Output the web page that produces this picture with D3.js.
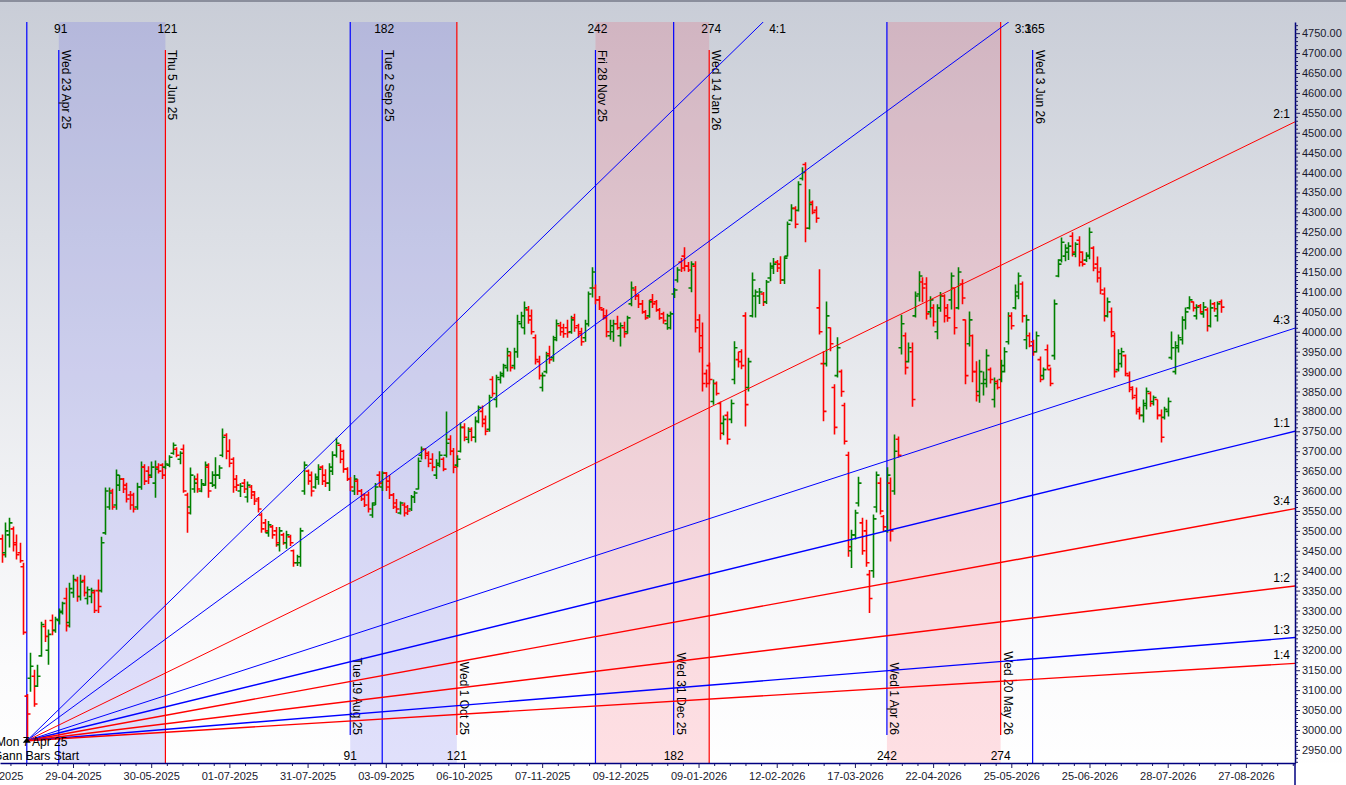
<!DOCTYPE html>
<html>
<head>
<meta charset="utf-8">
<script src="https://cdn.jsdelivr.net/npm/d3@7"></script>
<style>
  html, body { margin: 0; padding: 0; background: #fff; overflow: hidden; }
  text { font-family: "Liberation Sans", Arial, sans-serif; }
</style>
</head>
<body>
<div id="chart"></div>
<script>
// daily bars, [open, high, low, close], first bar is 7 bars before Mon 7 Apr 25
const firstBar = -7;
const priceBars = [
  [3480,3491,3420,3440],[3445,3521,3433,3500],[3490,3533,3458,3520],[3505,3511,3448,3465],[3470,3491,3428,3440],
  [3445,3470,3420,3425],[3410,3420,3239,3245],
  // 7 Apr 25
  [3085,3090,2975,3040],[3130,3194,3096,3160],[3135,3151,3058,3065],[3110,3164,3108,3135],[3186,3272,3184,3265],
  [3260,3277,3221,3235],[3200,3252,3164,3240],[3275,3290,3238,3250],[3250,3284,3244,3278],[3275,3305,3265,3298],
  [3295,3322,3290,3318],[3330,3357,3247,3262],[3270,3370,3257,3355],[3345,3390,3332,3378],[3375,3385,3322,3335],
  [3335,3390,3325,3372],[3375,3388,3335,3345],[3330,3360,3315,3352],[3335,3357,3318,3350],[3345,3352,3294,3300],
  [3350,3378,3294,3310],[3350,3485,3345,3470],[3495,3609,3490,3600],[3560,3609,3553,3595],[3600,3606,3553,3560],
  [3565,3654,3553,3640],[3615,3640,3600,3630],[3630,3633,3595,3605],[3615,3621,3571,3580],[3590,3600,3553,3565],
  [3590,3596,3546,3555],[3560,3621,3553,3610],[3610,3674,3603,3660],[3660,3667,3615,3625],[3650,3662,3618,3635],
  [3640,3674,3633,3660],[3620,3677,3583,3655],[3660,3670,3644,3650],[3665,3670,3630,3640],[3660,3677,3655,3668],
  [3665,3690,3660,3685],[3695,3722,3691,3715],[3705,3710,3685,3690],[3680,3700,3667,3695],[3705,3717,3596,3600],
  [3590,3596,3495,3545],[3560,3659,3541,3640],[3605,3639,3596,3620],[3630,3644,3596,3605],[3600,3630,3597,3618],
  [3615,3674,3613,3665],[3660,3670,3583,3600],[3620,3650,3610,3640],[3615,3685,3606,3640],[3640,3665,3630,3658],
  [3690,3757,3685,3735],[3740,3745,3680,3700],[3700,3730,3660,3670],[3680,3685,3596,3610],[3630,3640,3600,3615],
  [3600,3620,3585,3612],[3620,3630,3595,3605],[3585,3624,3571,3615],[3610,3615,3580,3590],[3598,3600,3565,3575],
  [3580,3585,3546,3555],[3540,3546,3495,3505],[3520,3530,3495,3500],[3495,3525,3485,3515],[3510,3515,3480,3490],
  [3500,3510,3460,3470],[3465,3510,3448,3500],[3490,3495,3465,3470],[3470,3500,3455,3490],[3485,3490,3462,3470],
  [3450,3453,3410,3420],[3420,3440,3412,3435],[3420,3508,3410,3500],[3600,3674,3591,3665],[3650,3654,3616,3625],
  [3640,3649,3586,3600],[3610,3644,3606,3635],[3630,3667,3616,3655],[3660,3665,3615,3625],[3640,3655,3610,3620],
  [3620,3670,3600,3660],[3650,3700,3640,3690],[3690,3734,3684,3720],[3715,3718,3670,3680],[3700,3704,3646,3655],
  [3655,3660,3625,3630],[3630,3635,3600,3610],[3600,3640,3590,3630],[3625,3630,3590,3600],[3600,3605,3575,3580],
  [3590,3595,3560,3565],[3590,3599,3546,3555],[3540,3571,3533,3565],[3570,3620,3565,3610],[3640,3650,3610,3620],
  [3610,3650,3600,3645],[3645,3648,3600,3610],[3625,3640,3580,3590],[3590,3595,3555,3560],[3570,3580,3545,3555],
  [3545,3574,3541,3570],[3565,3571,3536,3545],[3560,3565,3540,3550],[3555,3590,3550,3585],[3585,3600,3570,3595],
  [3605,3684,3604,3675],[3690,3712,3679,3705],[3705,3708,3680,3690],[3695,3700,3660,3670],[3680,3695,3650,3660],
  [3640,3680,3630,3670],[3665,3700,3660,3690],[3680,3685,3650,3655],[3690,3800,3684,3720],[3730,3740,3690,3700],
  [3700,3708,3645,3660],[3665,3690,3660,3680],[3700,3772,3697,3760],[3760,3770,3725,3735],[3730,3760,3720,3750],
  [3755,3760,3725,3735],[3735,3787,3722,3775],[3775,3815,3770,3810],[3800,3815,3760,3770],[3780,3790,3740,3750],
  [3755,3842,3749,3835],[3880,3888,3837,3845],[3830,3892,3810,3885],[3880,3900,3870,3895],[3890,3920,3885,3915],
  [3910,3960,3900,3950],[3940,3950,3900,3910],[3915,3960,3905,3950],[3950,4043,3935,4025],[4020,4050,4010,4040],
  [4010,4076,3993,4060],[4055,4065,4020,4030],[4040,4056,3993,4000],[3985,3993,3918,3930],[3925,3940,3880,3890],
  [3860,3898,3850,3890],[3900,3950,3895,3940],[3945,3965,3920,3930],[3935,3990,3925,3980],[3985,4031,3976,4020],
  [4015,4025,3990,4000],[4010,4020,3985,3995],[4010,4030,3985,3998],[4000,4040,3995,4030],[4035,4045,4000,4010],
  [4015,4020,3985,3995],[4000,4010,3965,3975],[3985,4030,3975,4020],[4020,4101,4013,4095],[4110,4162,4086,4150],
  [4110,4119,4069,4080],[4080,4090,4055,4060],[4055,4060,4030,4035],[4040,4056,3986,4000],[3990,4030,3980,4015],
  [4000,4030,3975,4020],[4020,4040,4005,4010],[3990,4023,3963,4015],[4010,4025,3985,3995],[4000,4040,3995,4035],
  [4070,4126,4064,4110],[4105,4115,4080,4090],[4090,4095,4060,4070],[4070,4080,4045,4050],[4050,4055,4030,4035],
  [4040,4080,4035,4075],[4080,4095,4060,4070],[4075,4080,4050,4055],[4055,4060,4030,4035],[4045,4050,4020,4028],
  [4020,4045,4005,4040],[4010,4051,4006,4045],[4095,4110,4085,4105],[4130,4162,4124,4155],[4175,4185,4150,4160],
  [4190,4212,4152,4165],[4165,4175,4150,4155],[4110,4177,4099,4170],[4165,4177,3998,4010],[4030,4044,3948,3960],
  [3990,4023,3850,3870],[3895,3905,3860,3870],[3915,3923,3868,3880],[3825,3880,3817,3870],[3870,3875,3840,3845],
  [3820,3825,3729,3745],[3770,3790,3740,3780],[3790,3800,3717,3730],[3780,3830,3770,3820],[3880,3976,3868,3960],
  [3930,3950,3910,3925],[3950,3956,3906,3915],[4040,4049,3762,3817],[3860,3935,3850,3925],[4040,4149,4036,4130],
  [4090,4106,4036,4100],[4090,4110,4070,4100],[4095,4100,4065,4075],[4075,4130,4070,4125],[4135,4174,4127,4165],
  [4160,4185,4145,4170],[4175,4180,4150,4160],[4170,4190,4120,4130],[4130,4190,4120,4185],[4190,4277,4189,4270],
  [4280,4320,4277,4310],[4310,4315,4260,4270],[4305,4378,4302,4370],[4385,4413,4380,4400],[4420,4426,4225,4260],
  [4260,4358,4257,4320],[4325,4330,4295,4300],[4305,4315,4274,4285],[4060,4157,3993,4000],[3920,3951,3775,3800],
  [3920,4076,3913,4040],[4010,4011,3951,3970],[3860,3868,3742,3760],[3890,3986,3885,3960],[3900,3905,3837,3850],
  [3815,3822,3717,3725],[3690,3699,3435,3460],[3450,3503,3407,3490],[3490,3553,3478,3545],[3570,3636,3561,3620],
  [3520,3533,3440,3450],[3500,3528,3410,3420],[3390,3402,3294,3330],[3400,3541,3382,3530],[3560,3649,3546,3640],
  [3620,3634,3541,3550],[3536,3540,3498,3510],[3500,3660,3495,3640],[3620,3634,3473,3500],[3600,3742,3591,3700],
  [3730,3737,3684,3690],[3960,4043,3943,4020],[3990,3998,3893,3910],[3925,3973,3923,3960],[3950,3973,3812,3830],
  [4040,4101,4036,4090],[4095,4152,4076,4140],[4125,4137,4074,4110],[4120,4137,4031,4045],[4050,4089,4036,4080],
  [4060,4069,4013,4025],[4000,4069,3981,4060],[4060,4100,4050,4090],[4090,4094,4023,4040],[4060,4070,4025,4035],
  [4080,4149,4056,4140],[4110,4111,3993,4010],[4060,4162,4056,4150],[4120,4132,4069,4085],[4030,4031,3868,3890],
  [3970,4051,3963,4030],[3990,3993,3873,3900],[3900,3926,3825,3840],[3850,3930,3822,3900],[3870,3900,3840,3880],
  [3870,3956,3860,3940],[3905,3910,3870,3880],[3830,3885,3810,3870],[3875,3880,3855,3860],[3880,3930,3873,3915],
  [3900,3961,3898,3950],[3975,4049,3968,4040],[4040,4049,4006,4015],[4060,4119,4056,4100],[4090,4149,4082,4140],
  [4120,4126,4023,4040],[3980,4043,3956,4030],[3990,3998,3961,3965],[3975,3980,3940,3950],[3950,4001,3948,3990],
  [3930,3938,3873,3880],[3890,3910,3880,3905],[3955,3968,3905,3915],[3905,3910,3863,3870],[3940,4081,3930,4070],
  [4140,4182,4137,4170],[4180,4237,4174,4225],[4190,4220,4177,4210],[4200,4225,4180,4215],[4240,4250,4189,4200],
  [4195,4225,4187,4220],[4230,4240,4164,4175],[4200,4202,4164,4170],[4180,4200,4175,4192],[4190,4262,4182,4250],
  [4210,4215,4152,4160],[4170,4189,4124,4135],[4150,4162,4094,4105],[4095,4111,4026,4040],[4040,4086,4036,4075],
  [4050,4061,3986,4000],[3990,3998,3885,3900],[3905,3956,3900,3945],[3920,3960,3910,3950],[3940,3943,3888,3895],
  [3890,3900,3848,3860],[3855,3863,3830,3835],[3840,3860,3792,3800],[3805,3812,3780,3790],[3790,3830,3772,3820],
  [3815,3860,3805,3850],[3845,3850,3812,3820],[3825,3840,3815,3835],[3830,3830,3780,3790],[3790,3805,3722,3735],
  [3785,3812,3780,3805],[3800,3835,3787,3825],[3935,4001,3930,3960],[3900,3976,3893,3965],[3960,3993,3948,3985],
  [3980,4039,3968,4030],[4030,4061,4006,4050],[4060,4089,4056,4080],[4075,4076,4051,4060],[4040,4069,4031,4062],
  [4065,4070,4045,4050],[4045,4075,4035,4062],[4055,4061,4001,4015],[4015,4081,4011,4060],[4070,4075,4050,4058],
  [4040,4076,4026,4070],[4075,4081,4048,4062]
];

// x axis dates, and the bar each one sits on
const dateTicks = ["24-03-2025","29-04-2025","30-05-2025","01-07-2025","31-07-2025","03-09-2025","06-10-2025",
  "07-11-2025","09-12-2025","09-01-2026","12-02-2026","17-03-2026","22-04-2026","25-05-2026","25-06-2026",
  "28-07-2026","27-08-2026"];
const dateTickBars = [-9, 13, 35, 57, 79, 101, 123, 145, 167, 189, 211, 233, 255, 277, 299, 321, 343];

// gann fan from the 7 Apr 25 low
const fanStartPrice = 2973;
const fanUnit = 2.178; // price per bar on the 1:1
const fanNames = ["4:1","3:1","2:1","4:3","1:1","3:4","1:2","1:3","1:4"];
const fanRatios = [4, 3, 2, 4/3, 1, 3/4, 1/2, 1/3, 1/4];
const fanColors = ["#0000ff","#0000ff","#ff0000","#0000ff","#0000ff","#ff0000","#ff0000","#0000ff","#ff0000"];

// gann bar counts: one set from an earlier start (top), one from 7 Apr 25 (bottom)
const topCountStart = -82;
const topCounts = [91, 121, 182, 242, 274, 365];
const topDates = ["Wed 23 Apr 25","Thu 5 Jun 25","Tue 2 Sep 25","Fri 28 Nov 25","Wed 14 Jan 26","Wed 3 Jun 26"];
const topColors = ["#0000ff","#ff0000","#0000ff","#0000ff","#ff0000","#0000ff"];
const bottomCounts = [91, 121, 182, 242, 274];
const bottomDates = ["Tue 19 Aug 25","Wed 1 Oct 25","Wed 31 Dec 25","Wed 1 Apr 26","Wed 20 May 26"];
const bottomColors = ["#0000ff","#ff0000","#0000ff","#0000ff","#ff0000"];

const width = 1346, height = 785;
const plotL = 0, plotR = 1295, plotT = 22, plotB = 763;

const svg = d3.select("#chart").append("svg")
  .attr("width", width)
  .attr("height", height);

const defs = svg.append("defs");
const grad = defs.append("linearGradient")
  .attr("id", "bg").attr("x1", 0).attr("y1", 0).attr("x2", 0).attr("y2", 1);
grad.append("stop").attr("offset", "0").attr("stop-color", "#c9cdd7");
grad.append("stop").attr("offset", "0.3").attr("stop-color", "#dcdfe5");
grad.append("stop").attr("offset", "0.6").attr("stop-color", "#eff0f3");
grad.append("stop").attr("offset", "0.85").attr("stop-color", "#fbfbfc");
grad.append("stop").attr("offset", "1").attr("stop-color", "#ffffff");

defs.append("clipPath").attr("id", "plot")
  .append("rect")
  .attr("x", plotL).attr("y", plotT)
  .attr("width", plotR - plotL).attr("height", plotB - plotT);

svg.append("rect").attr("width", width).attr("height", height).attr("fill", "url(#bg)");
svg.append("rect").attr("width", width).attr("height", 2).attr("fill", "#8a8e9c");
svg.append("rect").attr("y", plotB).attr("width", width).attr("height", height - plotB).attr("fill", "#ffffff");

const x = d3.scaleLinear().domain([-7.54, 356.82]).range([plotL, plotR]);
const y = d3.scaleLinear().domain([2917, 4778]).range([plotB, plotT]);

const plot = svg.append("g").attr("clip-path", "url(#plot)");

// shaded gann windows
const shades = [
  { a: x(topCountStart + 91), b: x(topCountStart + 121), fill: "rgba(70,70,235,0.16)" },
  { a: x(91), b: x(121), fill: "rgba(70,70,235,0.16)" },
  { a: x(topCountStart + 242), b: x(topCountStart + 274), fill: "rgba(255,0,30,0.12)" },
  { a: x(242), b: x(274), fill: "rgba(255,0,30,0.12)" }
];
plot.selectAll("rect.shade")
  .data(shades)
  .enter().append("rect")
  .attr("class", "shade")
  .attr("x", d => d.a).attr("y", plotT)
  .attr("width", d => d.b - d.a).attr("height", plotB - plotT)
  .attr("fill", d => d.fill);

// start line
plot.append("line")
  .attr("x1", x(0)).attr("x2", x(0))
  .attr("y1", plotT).attr("y2", plotB)
  .attr("stroke", "#0000ff").attr("stroke-width", 1.2);

// top count lines
const topLines = topCounts.map((c, k) => ({ bar: topCountStart + c, count: c, date: topDates[k], color: topColors[k] }));
const topG = plot.selectAll("g.top").data(topLines).enter().append("g").attr("class", "top");
topG.append("line")
  .attr("x1", d => x(d.bar)).attr("x2", d => x(d.bar))
  .attr("y1", 50).attr("y2", plotB)
  .attr("stroke", d => d.color).attr("stroke-width", 1.2);
topG.append("text")
  .attr("transform", d => `translate(${x(d.bar) + 3},50) rotate(90)`)
  .attr("font-size", 12).attr("fill", "#000")
  .text(d => d.date);
topG.append("text")
  .attr("x", d => x(d.bar) + 2).attr("y", 33)
  .attr("text-anchor", "middle")
  .attr("font-size", 12).attr("fill", "#000")
  .text(d => d.count);

// bottom count lines
const bottomLines = bottomCounts.map((c, k) => ({ bar: c, count: c, date: bottomDates[k], color: bottomColors[k] }));
const botG = plot.selectAll("g.bot").data(bottomLines).enter().append("g").attr("class", "bot");
botG.append("line")
  .attr("x1", d => x(d.bar)).attr("x2", d => x(d.bar))
  .attr("y1", plotT).attr("y2", 735)
  .attr("stroke", d => d.color).attr("stroke-width", 1.2);
botG.append("text")
  .attr("transform", d => `translate(${x(d.bar) + 3},735) rotate(90)`)
  .attr("text-anchor", "end")
  .attr("font-size", 12).attr("fill", "#000")
  .text(d => d.date);
botG.append("text")
  .attr("x", d => x(d.bar)).attr("y", 760)
  .attr("text-anchor", "middle")
  .attr("font-size", 12).attr("fill", "#000")
  .text(d => d.count);

// price bars
const bars = priceBars.map((b, k) => ({ i: firstBar + k, o: b[0], h: b[1], l: b[2], c: b[3] }));
plot.append("g")
  .selectAll("path")
  .data(bars)
  .enter().append("path")
  .attr("d", d => {
    const cx = Math.round(x(d.i)) + 0.5;
    return `M${cx},${y(d.h)}V${y(d.l)}M${cx - 3},${y(d.o)}H${cx}M${cx},${y(d.c)}H${cx + 3}`;
  })
  .attr("fill", "none")
  .attr("stroke", d => d.c >= d.o ? "#008000" : "#ff0000")
  .attr("stroke-width", 1.6);

// fan lines
const iEnd = x.invert(plotR);
const fans = fanRatios.map((r, k) => ({ r, name: fanNames[k], color: fanColors[k], thin: k < 4 }));
plot.append("g")
  .selectAll("line")
  .data(fans)
  .enter().append("line")
  .attr("x1", x(0)).attr("y1", y(fanStartPrice))
  .attr("x2", x(iEnd)).attr("y2", d => y(fanStartPrice + d.r * fanUnit * iEnd))
  .attr("stroke", d => d.color)
  .attr("stroke-width", d => d.thin ? 1 : 1.4);

// fan labels: at the top edge for the steep ones, else at the price axis
plot.append("g")
  .selectAll("text")
  .data(fans)
  .enter().append("text")
  .attr("font-size", 12).attr("fill", "#000")
  .attr("text-anchor", d => d.r >= 3 ? "start" : "end")
  .attr("x", d => {
    if (d.r >= 3) {
      const iTop = (y.invert(plotT) - fanStartPrice) / (d.r * fanUnit);
      return x(iTop) + 6;
    }
    return plotR - 5;
  })
  .attr("y", d => d.r >= 3 ? 33 : y(fanStartPrice + d.r * fanUnit * iEnd) - 4)
  .text(d => d.name);

// start marker and text
plot.append("path")
  .attr("d", `M${x(0)},${y(fanStartPrice) - 3}l4,5h-8z`)
  .attr("fill", "#000");
plot.append("text").attr("x", -4).attr("y", 746).attr("font-size", 12).attr("fill", "#000").text("Mon 7 Apr 25");
plot.append("text").attr("x", -7).attr("y", 760).attr("font-size", 12).attr("fill", "#000").text("Gann Bars Start");

// price axis
const yMajor = d3.range(2950, 4751, 50);
const yMinor = d3.range(2920, 4780, 10).filter(v => v % 50 !== 0);
svg.append("g")
  .attr("transform", `translate(${plotR},0)`)
  .call(d3.axisRight(y).tickValues(yMajor).tickSize(5).tickSizeOuter(0).tickPadding(2).tickFormat(d3.format(".2f")));
svg.append("g")
  .attr("transform", `translate(${plotR},0)`)
  .call(d3.axisRight(y).tickValues(yMinor).tickSize(3).tickFormat(""))
  .call(g => g.select(".domain").remove());
svg.append("line")
  .attr("x1", plotR).attr("x2", plotR)
  .attr("y1", plotB).attr("y2", height)
  .attr("stroke", "#000080").attr("stroke-width", 1.5);

// date axis
const xMinor = [];
dateTickBars.forEach(b => { for (let s = 1; s < 5; s++) xMinor.push(b + s * 4.4); });
svg.append("g")
  .attr("transform", `translate(0,${plotB})`)
  .call(d3.axisBottom(x).tickValues(xMinor.filter(v => v < 356.8)).tickSize(3).tickFormat(""))
  .call(g => g.select(".domain").remove());
svg.append("g")
  .attr("transform", `translate(0,${plotB})`)
  .call(d3.axisBottom(x).tickValues(dateTickBars).tickSize(5).tickSizeOuter(0).tickPadding(4)
    .tickFormat((d, k) => dateTicks[k]));

svg.selectAll(".tick line").attr("stroke", "#1a1a60");
svg.selectAll(".domain").attr("stroke", "#000080").attr("stroke-width", 1.5);
svg.selectAll(".tick text")
  .attr("font-family", "'Liberation Sans', Arial, sans-serif")
  .attr("font-size", 11)
  .attr("fill", "#1a1a2e");
</script>
</body>
</html>
